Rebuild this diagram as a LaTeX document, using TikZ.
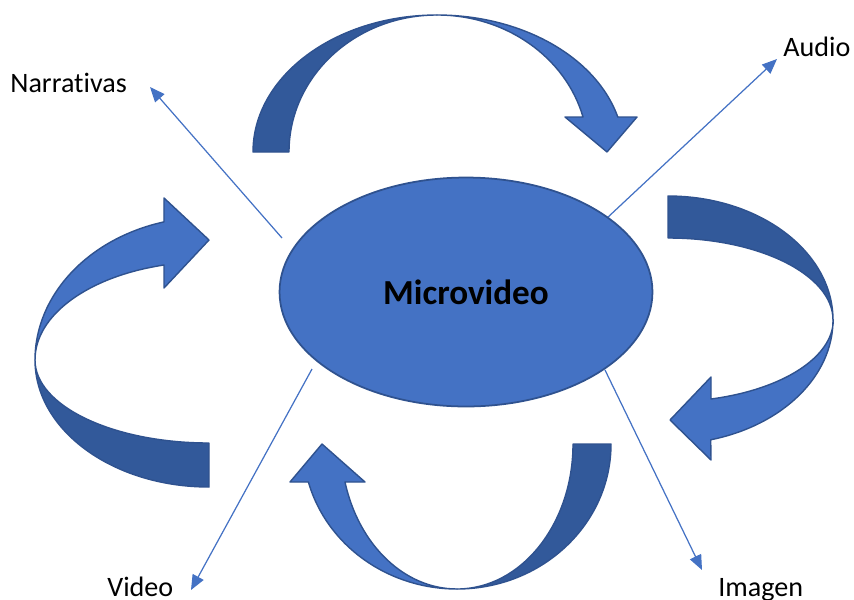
\documentclass[tikz,border=0pt]{standalone}
\usepackage{fontspec}
\setmainfont{Carlito}[Ligatures=NoCommon]
\usepackage{tikz}
\usetikzlibrary{shapes.geometric}
\usetikzlibrary{arrows.meta}
\definecolor{bandlight}{RGB}{68,114,196}
\definecolor{banddark}{RGB}{50,89,154}
\definecolor{bandedge}{RGB}{47,82,143}
\tikzstyle{back}=[fill=banddark, draw=bandedge, line width=0.8pt, line join=round]
\tikzstyle{front}=[fill=bandlight, draw=bandedge, line width=0.8pt, line join=round]
\tikzstyle{link}=[-{Triangle[length=8.5pt,width=7pt]}, bandlight, line width=0.7pt]
\tikzstyle{label}=[inner sep=0pt, anchor=base west, font=\fontsize{16}{19}\selectfont]

\begin{document}
\begin{tikzpicture}[x=0.02cm, y=-0.02cm]
      \useasboundingbox (0,0) rectangle (854,599);
      \coordinate (narr-from) at (282,238);
      \coordinate (narr-tip) at (150,87);
      \coordinate (audio-from) at (607,218);
      \coordinate (audio-tip) at (777,59);
      \coordinate (video-from) at (312,369);
      \coordinate (video-tip) at (191,590);
      \coordinate (imagen-from) at (605,370);
      \coordinate (imagen-tip) at (702,570);
      \draw[link] (narr-from) -- (narr-tip);
      \draw[link] (audio-from) -- (audio-tip);
      \draw[link] (video-from) -- (video-tip);
      \draw[link] (imagen-from) -- (imagen-tip);
      \node[ellipse, fill=bandlight, draw=bandedge, line width=1pt, minimum width=7.46cm, minimum height=4.58cm, font=\bfseries\fontsize{20}{24}\selectfont] at (466,292) (micro) {Microvideo};
      \node[label] at (10,92) (narr) {Narrativas};
      \node[label] at (783,56) (audio) {Audio};
      \node[label] at (107,596) (video) {Video};
      \node[label] at (718,596) (imagen) {Imagen};
      % top
      \filldraw[back] (253,152) arc[start angle=180, end angle=270, x radius=184, y radius=137]
        arc[start angle=270, end angle=180, x radius=148, y radius=137] -- cycle;
      \filldraw[front] (437,15) arc[start angle=270, end angle=345.2, x radius=187, y radius=137]
        -- (637,117) -- (607,152) -- (565,117) -- (583,117)
        arc[start angle=345.2, end angle=270, x radius=151, y radius=137] -- cycle;
      % right
      \filldraw[back] (668,196) arc[start angle=270, end angle=360, x radius=165, y radius=124]
        arc[start angle=0, end angle=-90, x radius=165, y radius=82] -- cycle;
      \filldraw[front] (833,320) arc[start angle=0, end angle=75, x radius=165, y radius=124]
        -- (711,460) -- (670,420) -- (711,377) -- (711,399)
        arc[start angle=75, end angle=0, x radius=165, y radius=82] -- cycle;
      % bottom
      \filldraw[back] (611,444) arc[start angle=0, end angle=90, x radius=154, y radius=145]
        arc[start angle=90, end angle=0, x radius=116, y radius=145] -- cycle;
      \filldraw[front] (457,589) arc[start angle=90, end angle=164.8, x radius=154, y radius=145]
        -- (290,482) -- (322,444) -- (365,482) -- (345,482)
        arc[start angle=164.8, end angle=90, x radius=116, y radius=145] -- cycle;
      % left
      \filldraw[back] (209,487) arc[start angle=90, end angle=180, x radius=174, y radius=127]
        arc[start angle=180, end angle=90, x radius=174, y radius=83] -- cycle;
      \filldraw[front] (35,360) arc[start angle=180, end angle=255, x radius=174, y radius=143]
        -- (164,198) -- (209,240) -- (164,288) -- (164,265)
        arc[start angle=255, end angle=180, x radius=174, y radius=98] -- cycle;
    \end{tikzpicture}
\end{document}
